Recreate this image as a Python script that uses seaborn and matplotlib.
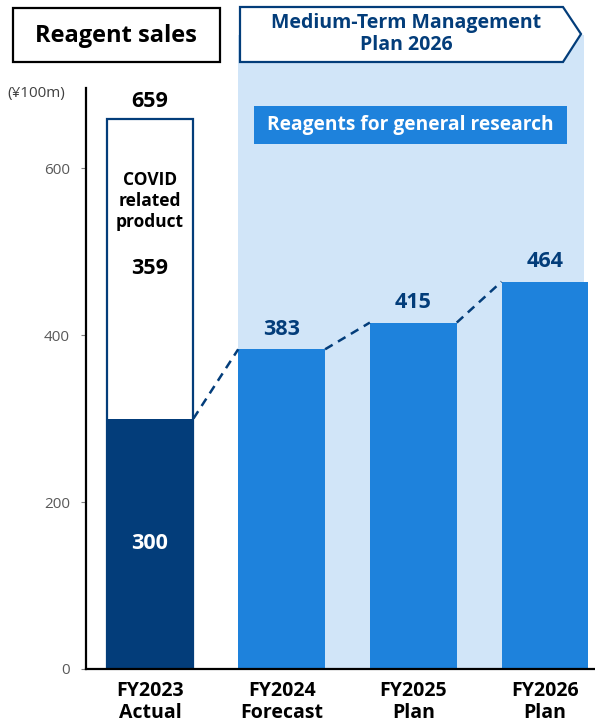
import matplotlib
matplotlib.use("Agg")
import matplotlib.pyplot as plt
from matplotlib.patches import Rectangle, Polygon
import seaborn as sns
import pandas as pd

# Sales data (¥100m)
categories = ["FY2023\nActual", "FY2024\nForecast", "FY2025\nPlan", "FY2026\nPlan"]
general_sales = [300, 383, 415, 464]
covid_sales = [359, 0, 0, 0]
y_ticks = [0, 200, 400, 600]

DARK = "#033d7a"
BRIGHT = "#1e82dc"
PALE = "#d1e5f8"
BAR_W = 0.66

sns.set_theme(style="white")
plt.rcParams["font.family"] = ["Open Sans", "DejaVu Sans"]

W, H = 595, 727
fig = plt.figure(figsize=(W / 100, H / 100), dpi=100)


def fx(px):
    return px / W


def fy(py):
    return 1 - py / H


ax = fig.add_axes([fx(86), fy(669), fx(595) - fx(86), fy(88) - fy(669)])

df = pd.DataFrame({"cat": categories, "general": general_sales,
                   "total": [g + c for g, c in zip(general_sales, covid_sales)]})

# COVID portion: outlined white bar covering the full FY2023 total
covid_df = df[[c > 0 for c in covid_sales]]
sns.barplot(data=covid_df, x="cat", y="total", order=categories, width=BAR_W,
            color="white", edgecolor=DARK, linewidth=1.6, saturation=1,
            ax=ax, zorder=2)
covid_container = ax.containers[-1]

# General-research reagents
bar_colors = [DARK] + [BRIGHT] * 3
sns.barplot(data=df, x="cat", y="general", hue="cat", order=categories,
            hue_order=categories, palette=bar_colors, width=BAR_W, dodge=False,
            saturation=1, legend=False, linewidth=0, ax=ax, zorder=3)
gen_containers = ax.containers[-4:]

ax.set_xlim(-0.486, 3.38)
ax.set_ylim(0, 696)

# Plan-period shaded band behind the forecast/plan bars
ymax_band = 696 + (88 - 35) / (669 - 88) * 696
ax.add_patch(Rectangle((1 - BAR_W / 2, 0), 3.30 - (1 - BAR_W / 2), ymax_band,
                       facecolor=PALE, edgecolor="none", clip_on=False, zorder=0))

# Value labels
ax.bar_label(covid_container, labels=[str(covid_df["total"].iloc[0])], padding=5,
             fontsize=15.5, fontweight="bold", color="black")
ax.bar_label(gen_containers[0], labels=[str(general_sales[0])], label_type="center",
             fontsize=15.5, fontweight="bold", color="white")
for cont, v in zip(gen_containers[1:], general_sales[1:]):
    ax.bar_label(cont, labels=[str(v)], padding=7, fontsize=15.5,
                 fontweight="bold", color=DARK)

covid_mid = general_sales[0] + covid_sales[0] / 2
ax.text(0, covid_mid, str(covid_sales[0]), ha="center", va="center",
        fontsize=15.5, fontweight="bold", color="black", zorder=5)
ax.text(0, covid_mid + 81, "COVID\nrelated\nproduct", ha="center", va="center",
        fontsize=12.5, fontweight="bold", color="black", linespacing=1.22, zorder=5)

# Dashed connectors between bar tops
for i in range(len(general_sales) - 1):
    ax.plot([i + BAR_W / 2, i + 1 - BAR_W / 2],
            [general_sales[i], general_sales[i + 1]],
            ls=(0, (3.5, 2.5)), color=DARK, lw=1.8, zorder=4)

# Axes styling
ax.set_xlabel("")
ax.set_ylabel("")
ax.set_yticks(y_ticks)
ax.set_yticklabels([str(t) for t in y_ticks], color="#595959", fontsize=11)
ax.tick_params(axis="y", length=3.5, color="#808080", width=0.8, left=True, pad=8)
ax.tick_params(axis="x", length=0, pad=9)
for lbl in ax.get_xticklabels():
    lbl.set_fontweight("bold")
    lbl.set_fontsize(14)
    lbl.set_color("black")
    lbl.set_linespacing(1.07)
for side in ["top", "right"]:
    ax.spines[side].set_visible(False)
for side in ["left", "bottom"]:
    ax.spines[side].set_color("black")
    ax.spines[side].set_linewidth(1.6)
    ax.spines[side].set_zorder(6)
ax.set_facecolor("none")
ax.grid(False)

fig.text(fx(36), fy(93), "(¥100m)", fontsize=11, color="#404040",
         ha="center", va="center")

# Title box
fig.patches.append(Rectangle((fx(13), fy(62)), fx(220) - fx(13), fy(8) - fy(62),
                             transform=fig.transFigure, facecolor="white",
                             edgecolor="black", linewidth=1.6))
fig.text(fx(116), fy(36), "Reagent sales", fontsize=17, fontweight="bold",
         color="black", ha="center", va="center")

# Medium-term plan arrow banner
arrow = [(240, 7), (563, 7), (581, 34), (563, 62), (240, 62)]
fig.patches.append(Polygon([(fx(x), fy(y)) for x, y in arrow], closed=True,
                           transform=fig.transFigure, facecolor="white",
                           edgecolor=DARK, linewidth=1.6, zorder=3))
fig.text(fx(406), fy(34), "Medium-Term Management\nPlan 2026", fontsize=14,
         fontweight="bold", color=DARK, ha="center", va="center",
         linespacing=1.13, zorder=4)

# Segment label box
fig.patches.append(Rectangle((fx(254), fy(144)), fx(567) - fx(254), fy(106) - fy(144),
                             transform=fig.transFigure, facecolor=BRIGHT,
                             edgecolor="none", zorder=3))
fig.text(fx(410), fy(125), "Reagents for general research", fontsize=13.8,
         fontweight="bold", color="white", ha="center", va="center", zorder=4)

fig.savefig("out.png", dpi=100)
